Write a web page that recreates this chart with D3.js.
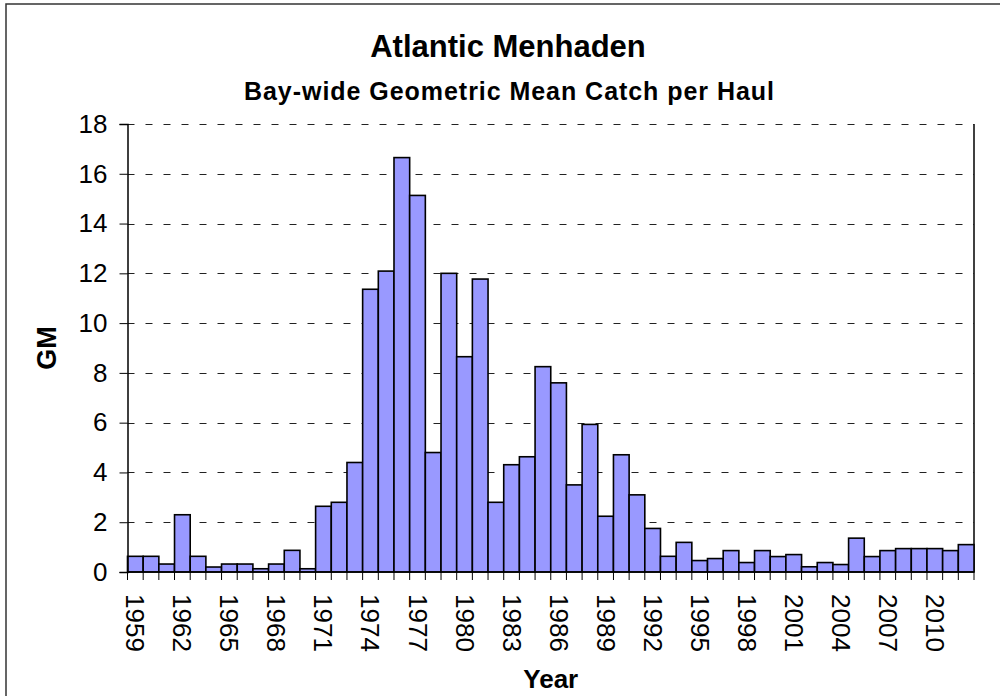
<!DOCTYPE html>
<html>
<head>
<meta charset="utf-8">
<script src="https://cdn.jsdelivr.net/npm/d3@7"></script>
<style>
  body { margin: 0; background: #fff; }
  text { font-family: "Liberation Sans", Arial, sans-serif; fill: #000; }
</style>
</head>
<body>
<div id="vis"></div>
<script>
const FRAME_WIDTH = 1000;
const FRAME_HEIGHT = 696;
const MARGINS = {left: 127.5, right: 26, top: 124, bottom: 124};

const VIS_WIDTH = FRAME_WIDTH - MARGINS.left - MARGINS.right;
const VIS_HEIGHT = FRAME_HEIGHT - MARGINS.top - MARGINS.bottom;

// data
const YEARS = [1959, 1960, 1961, 1962, 1963, 1964, 1965, 1966, 1967, 1968,
               1969, 1970, 1971, 1972, 1973, 1974, 1975, 1976, 1977, 1978,
               1979, 1980, 1981, 1982, 1983, 1984, 1985, 1986, 1987, 1988,
               1989, 1990, 1991, 1992, 1993, 1994, 1995, 1996, 1997, 1998,
               1999, 2000, 2001, 2002, 2003, 2004, 2005, 2006, 2007, 2008,
               2009, 2010, 2011, 2012];
const GM = [0.63, 0.63, 0.32, 2.30, 0.63, 0.20, 0.32, 0.32, 0.13, 0.32,
            0.87, 0.13, 2.64, 2.80, 4.40, 11.36, 12.09, 16.65, 15.13, 4.80,
            12.00, 8.65, 11.77, 2.80, 4.31, 4.63, 8.25, 7.60, 3.50, 5.93,
            2.24, 4.71, 3.10, 1.75, 0.63, 1.19, 0.46, 0.54, 0.86, 0.38,
            0.86, 0.62, 0.70, 0.21, 0.38, 0.30, 1.36, 0.62, 0.86, 0.94,
            0.94, 0.94, 0.86, 1.10];
const YEAR_LABELS = [1959, 1962, 1965, 1968, 1971, 1974, 1977, 1980, 1983,
                     1986, 1989, 1992, 1995, 1998, 2001, 2004, 2007, 2010];
const Y_TICKS = [0, 2, 4, 6, 8, 10, 12, 14, 16, 18];

const data = YEARS.map((y, i) => ({year: y, gm: GM[i]}));

const FRAME = d3.select("#vis")
                .append("svg")
                  .attr("width", FRAME_WIDTH)
                  .attr("height", FRAME_HEIGHT);

// outer chart border (runs off the right and bottom)
FRAME.append("rect")
      .attr("x", 6)
      .attr("y", 4)
      .attr("width", 1100)
      .attr("height", 800)
      .attr("fill", "none")
      .attr("stroke", "#333")
      .attr("stroke-width", 1.5);

const X_SCALE = d3.scaleBand()
                  .domain(YEARS)
                  .range([MARGINS.left, MARGINS.left + VIS_WIDTH])
                  .padding(0);

const Y_SCALE = d3.scaleLinear()
                  .domain([0, 18])
                  .range([MARGINS.top + VIS_HEIGHT, MARGINS.top]);

// dashed gridlines
FRAME.append("g")
      .selectAll("line")
      .data(Y_TICKS.filter(d => d > 0))
      .enter()
      .append("line")
        .attr("x1", MARGINS.left)
        .attr("x2", MARGINS.left + VIS_WIDTH)
        .attr("y1", d => Math.round(Y_SCALE(d)) + 0.5)
        .attr("y2", d => Math.round(Y_SCALE(d)) + 0.5)
        .attr("stroke", "#222")
        .attr("stroke-dasharray", "7,11");

// right side of the plot area
FRAME.append("line")
      .attr("x1", MARGINS.left + VIS_WIDTH)
      .attr("x2", MARGINS.left + VIS_WIDTH)
      .attr("y1", Y_SCALE(18))
      .attr("y2", Y_SCALE(0))
      .attr("stroke", "#000")
      .attr("stroke-width", 1.5);

// bars
FRAME.selectAll(".bar")
      .data(data)
      .enter()
      .append("rect")
        .attr("class", "bar")
        .attr("x", d => X_SCALE(d.year))
        .attr("y", d => Y_SCALE(d.gm))
        .attr("width", X_SCALE.bandwidth())
        .attr("height", d => Y_SCALE(0) - Y_SCALE(d.gm))
        .attr("fill", "#9999ff")
        .attr("stroke", "#000")
        .attr("stroke-width", 1.6);

// y axis
const yAxis = FRAME.append("g")
      .attr("transform", "translate(" + MARGINS.left + ",0)")
      .call(d3.axisLeft(Y_SCALE).tickValues(Y_TICKS).tickSize(8).tickPadding(12));
yAxis.select(".domain").attr("stroke", "#000").attr("stroke-width", 1.5);
yAxis.selectAll(".tick line").attr("stroke", "#000");
yAxis.selectAll("text")
      .attr("font-size", "26px")
      .attr("font-family", "Liberation Sans, Arial, sans-serif");

// x axis: tick marks at every bar boundary
const edges = YEARS.map(y => X_SCALE(y)).concat([MARGINS.left + VIS_WIDTH]);
FRAME.append("g")
      .selectAll("line")
      .data(edges)
      .enter()
      .append("line")
        .attr("x1", d => d)
        .attr("x2", d => d)
        .attr("y1", Y_SCALE(0))
        .attr("y2", Y_SCALE(0) + 8)
        .attr("stroke", "#000");

FRAME.append("line")
      .attr("x1", MARGINS.left)
      .attr("x2", MARGINS.left + VIS_WIDTH)
      .attr("y1", Y_SCALE(0))
      .attr("y2", Y_SCALE(0))
      .attr("stroke", "#000")
      .attr("stroke-width", 1.5);

// x labels, rotated to read top to bottom
const xAxis = FRAME.append("g")
      .attr("transform", "translate(0," + Y_SCALE(0) + ")")
      .call(d3.axisBottom(X_SCALE).tickValues(YEAR_LABELS).tickSize(0).tickPadding(0));
xAxis.select(".domain").remove();
xAxis.selectAll("text")
      .attr("font-size", "26px")
      .attr("font-family", "Liberation Sans, Arial, sans-serif")
      .attr("text-anchor", "start")
      .attr("dy", null)
      .attr("dominant-baseline", "central")
      .attr("transform", "translate(0,22) rotate(90)")
      .attr("y", 0)
      .attr("x", 0);

// titles
FRAME.append("text")
      .attr("x", 508)
      .attr("y", 57)
      .attr("text-anchor", "middle")
      .attr("font-size", "31px")
      .attr("font-weight", "bold")
      .text("Atlantic Menhaden");

FRAME.append("text")
      .attr("x", 244)
      .attr("y", 100)
      .attr("font-size", "25px")
      .attr("font-weight", "bold")
      .attr("textLength", 530)
      .attr("lengthAdjust", "spacing")
      .text("Bay-wide Geometric Mean Catch per Haul");

FRAME.append("text")
      .attr("transform", "translate(56," + (MARGINS.top + VIS_HEIGHT / 2) + ") rotate(-90)")
      .attr("text-anchor", "middle")
      .attr("font-size", "27px")
      .attr("font-weight", "bold")
      .text("GM");

FRAME.append("text")
      .attr("x", MARGINS.left + VIS_WIDTH / 2)
      .attr("y", 688)
      .attr("text-anchor", "middle")
      .attr("font-size", "26px")
      .attr("font-weight", "bold")
      .text("Year");
</script>
</body>
</html>
